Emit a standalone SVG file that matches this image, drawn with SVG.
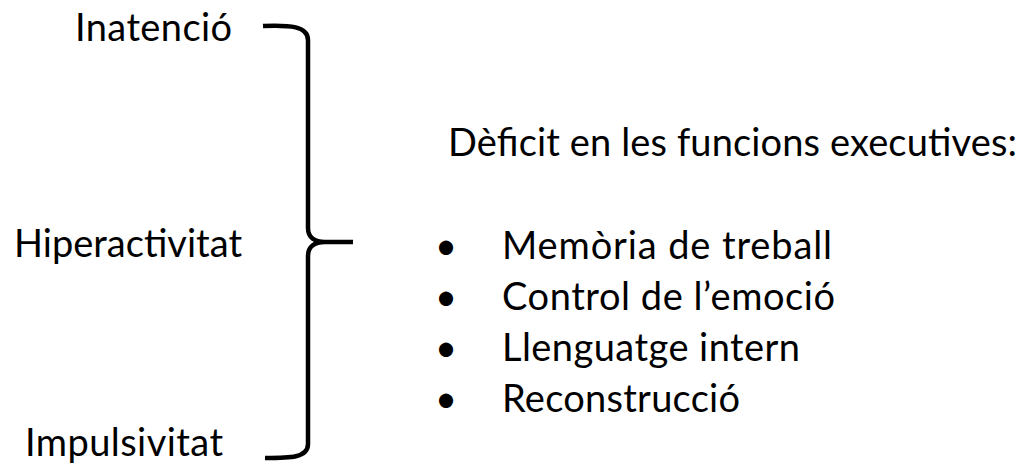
<svg xmlns="http://www.w3.org/2000/svg" width="1024" height="465" viewBox="0 0 1024 465">
<style>
text{font-family:Lato,"Open Sans","Liberation Sans",sans-serif;font-size:38px;fill:#000}
.brace{fill:none;stroke:#000;stroke-width:4.5;stroke-linejoin:round;stroke-linecap:butt}
</style>
<rect width="1024" height="465" fill="#fff"/>
<g id="inatencio"><text x="75" y="41" textLength="157">Inatenció</text></g>
<g id="hiperactivitat"><text x="14" y="257" textLength="228">Hiperactivitat</text></g>
<g id="impulsivitat"><text x="25" y="456" textLength="198">Impulsivitat</text></g>
<g id="connectors">
<path class="brace" d="M263 26 C290 25 308 26 308 40 L308 228 C308 238 315 242 325 242 L353 242 M325 242 C315 242 308 246 308 256 L308 444 C308 458 290 458 265 458"/>
</g>
<g id="deficit">
<text x="448" y="156" textLength="569">Dèficit en les funcions executives:</text>
<text x="435" y="259">•</text><text x="502" y="259" textLength="330">Memòria de treball</text>
<text x="435" y="310">•</text><text x="502" y="310" textLength="333">Control de l’emoció</text>
<text x="435" y="361">•</text><text x="502" y="361" textLength="298">Llenguatge intern</text>
<text x="435" y="412">•</text><text x="502" y="412" textLength="238">Reconstrucció</text>
</g>
</svg>
